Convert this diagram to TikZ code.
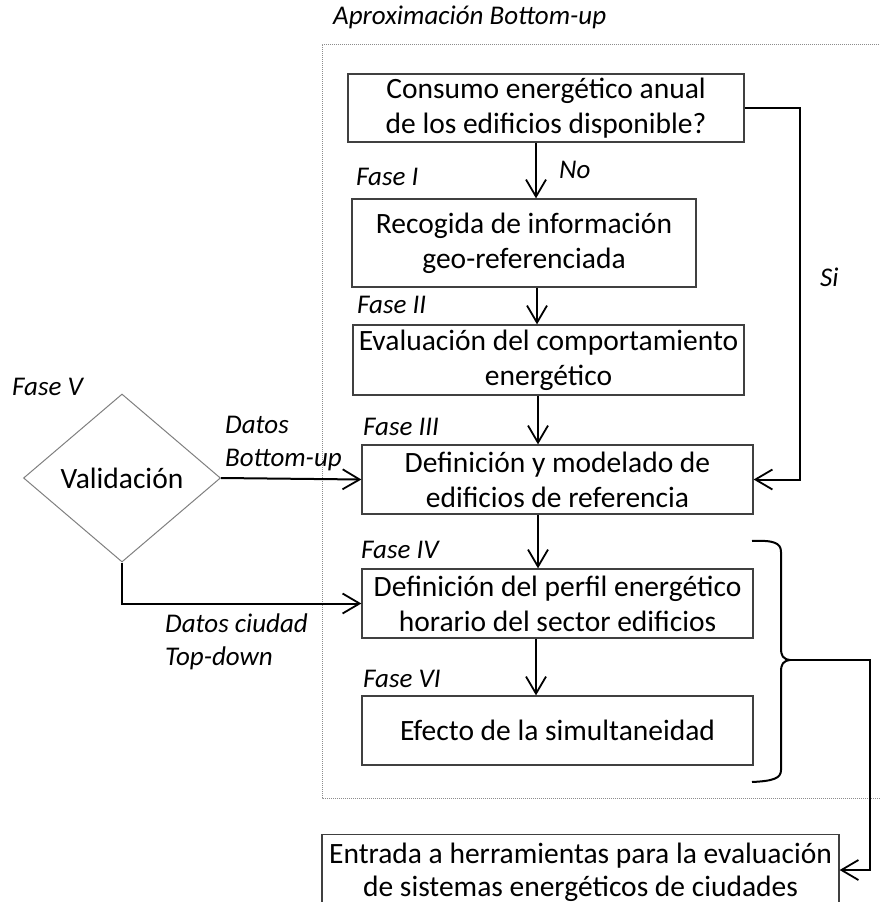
\documentclass[tikz,border=0pt]{standalone}
\usepackage{fontspec}
\setmainfont{Carlito}
\usetikzlibrary{arrows.meta,shapes.geometric}
\tikzset{
  box/.style={draw=black!75, line width=1.3pt, rectangle, inner sep=0pt, align=center,
    font=\fontsize{29.5}{35}\selectfont},
  lbl/.style={font=\fontsize{27}{33}\selectfont\itshape, inner sep=0pt, anchor=west, align=left},
  conn/.style={line width=2pt, -{Straight Barb[length=17pt,width=20pt,line width=1.8pt]}},
  plain/.style={line width=2pt},
  frame/.style={draw=black!45, line width=1pt, dash pattern=on 1pt off 1pt}
}
\begin{document}
\begin{tikzpicture}[x=1pt,y=-1pt]
\clip (0,0) rectangle (880,902);
\fill[white] (0,0) rectangle (880,902);
% dotted frame
\draw[frame] (885,44) -- (322,44) -- (322,798) -- (885,798);
\node[lbl] (aprox) at (333,17) {Aproximación Bottom-up};
% boxes
\node[box, minimum width=396pt, minimum height=68pt] (consumo) at (546,108) {Consumo energético anual\\de los edificios disponible?};
\node[box, minimum width=344pt, minimum height=88pt] (recog) at (524,243) {Recogida de información\\geo-referenciada};
\node[box, minimum width=391pt, minimum height=70pt] (eval) at (548.5,360) {Evaluación del comportamiento\\energético};
\node[box, minimum width=391pt, minimum height=69pt] (def) at (557.5,479.5) {Definición y modelado de\\edificios de referencia};
\node[box, minimum width=391pt, minimum height=69pt] (perfil) at (557.5,603.5) {Definición del perfil energético\\horario del sector edificios};
\node[box, minimum width=391pt, minimum height=69pt] (efecto) at (557.5,730.5) {Efecto de la simultaneidad};
\node[box, minimum width=517pt, minimum height=80pt, anchor=north] (entrada) at (580.5,834) {};
\node[font=\fontsize{29.5}{33}\selectfont, align=center, inner sep=0pt] (entradatxt) at (580.5,872) {Entrada a herramientas para la evaluación\\de sistemas energéticos de ciudades};
% diamond
\node[draw=black!50, line width=1pt, diamond, minimum width=197pt, minimum height=168pt, inner sep=0pt, aspect=1.17,
  font=\fontsize{29.5}{35}\selectfont] (valid) at (122,478) {Validación};
% labels
\node[lbl] (f1) at (356,177) {Fase I};
\node[lbl] (no) at (559,170) {No};
\node[lbl] (f2) at (357,305) {Fase II};
\node[lbl] (si) at (820,277) {Si};
\node[lbl] (f3) at (363,427) {Fase III};
\node[lbl] (f4) at (361,550) {Fase IV};
\node[lbl] (f6) at (363,679) {Fase VI};
\node[lbl] (f5) at (12,387) {Fase V};
\node[lbl] (dbu) at (225,444) {Datos\\Bottom-up};
\node[lbl] (dtd) at (165,642) {Datos ciudad\\Top-down};
% connectors
\draw[conn] (consumo.south -| 536,0) -- (recog.north -| 536,0);
\draw[conn] (recog.south -| 537,0) -- (eval.north -| 537,0);
\draw[conn] (eval.south -| 538,0) -- (def.north -| 538,0);
\draw[conn] (def.south -| 538,0) -- (perfil.north -| 538,0);
\draw[conn] (perfil.south -| 536,0) -- (efecto.north -| 536,0);
\coordinate (sitop) at (800,108);
\coordinate (sibot) at (800,479.5);
\draw[conn] (consumo.east) -- (sitop) -- (sibot) -- (def.east);
\draw[conn] (valid.east) -- (def.west);
\coordinate (vcorner) at (122,603.5);
\draw[conn] (valid.south) -- (vcorner) -- (perfil.west);
% brace
\coordinate (bt) at (790,660);
\draw[plain] (752,541) .. controls (774,540) and (781,543) .. (781,552) -- (781,648)
  .. controls (781,656) and (783,659) .. (bt)
  .. controls (783,661) and (781,664) .. (781,672) -- (781,770)
  .. controls (781,778) and (774,781) .. (752,782);
\coordinate (br1) at (870,660);
\coordinate (br2) at (870,870);
\draw[conn] (bt) -- (br1) -- (br2) -- (br2 -| entrada.east);
\end{tikzpicture}
\end{document}
